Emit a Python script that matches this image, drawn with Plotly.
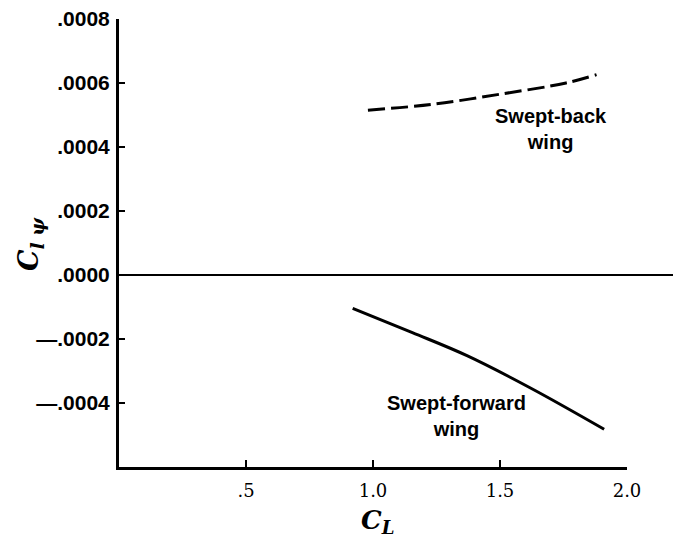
import plotly.graph_objects as go

# Data
back_cl = [0.98, 1.23, 1.50, 1.76, 1.88]
back_clpsi = [0.000515, 0.000533, 0.000565, 0.000600, 0.000626]

fwd_cl = [0.92, 1.155, 1.37, 1.62, 1.91]
fwd_clpsi = [-0.000104, -0.000180, -0.000252, -0.000353, -0.000482]

y_tickvals = [0.0008, 0.0006, 0.0004, 0.0002, 0.0, -0.0002, -0.0004]
y_ticktext = [".0008", ".0006", ".0004", ".0002", ".0000", "\u2014.0002", "\u2014.0004"]
x_tickvals = [0.5, 1.0, 1.5, 2.0]
x_ticktext = [".5", "1.0", "1.5", "2.0"]

W, H = 673, 538
ML, MR, MT, MB = 119, 46, 19, 71
PW, PH = W - ML - MR, H - MT - MB

fig = go.Figure()
fig.add_trace(go.Scatter(x=back_cl, y=back_clpsi, mode="lines", line_shape="spline",
                         line=dict(color="black", width=3, dash="17px,6px"),
                         hoverinfo="skip", showlegend=False))
fig.add_trace(go.Scatter(x=fwd_cl, y=fwd_clpsi, mode="lines", line_shape="spline",
                         line=dict(color="black", width=3),
                         hoverinfo="skip", showlegend=False))

# zero reference line extending to the right edge
fig.add_shape(type="line", xref="paper", yref="y", x0=0, x1=(W - ML) / PW,
              y0=0, y1=0, line=dict(color="black", width=2))

lab_font = dict(family="Liberation Sans", size=20, color="black", weight="bold")
fig.add_annotation(x=1.70, y=0.000455, text="Swept-back<br>wing", showarrow=False,
                   xanchor="center", yanchor="middle", font=lab_font, align="center")
fig.add_annotation(x=1.33, y=-0.000440, text="Swept-forward<br>wing", showarrow=False,
                   xanchor="center", yanchor="middle", font=lab_font, align="center")

# axis titles
fig.add_annotation(xref="paper", yref="paper", x=(378 - ML) / PW, y=-(521 - (H - MB)) / PH,
                   xanchor="center", yanchor="middle",
                   text="<b><i>C<sub>L</sub></i></b>", showarrow=False,
                   font=dict(family="DejaVu Serif", size=26, color="black"))
fig.add_annotation(xref="paper", yref="paper", x=-(ML - 30) / PW, y=1 - (244 - MT) / PH,
                   xanchor="center", yanchor="middle",
                   text="<b><i>C<sub>l \u03c8</sub></i></b>", showarrow=False, textangle=-90,
                   font=dict(family="DejaVu Serif", size=27, color="black"))

fig.update_xaxes(range=[0, 2.0], tickvals=x_tickvals, ticktext=x_ticktext, automargin=False,
                 ticks="inside", ticklen=7, tickwidth=2, tickcolor="black", ticklabelstandoff=5,
                 showline=True, linecolor="black", linewidth=3, showgrid=False, zeroline=False,
                 tickfont=dict(family="DejaVu Serif", size=18, color="black"))
fig.update_yaxes(range=[-0.0006, 0.0008], tickvals=y_tickvals, ticktext=y_ticktext, automargin=False,
                 ticks="inside", ticklen=6, tickwidth=2, tickcolor="black", ticklabelstandoff=2,
                 showline=True, linecolor="black", linewidth=3, showgrid=False, zeroline=False,
                 tickfont=dict(family="Liberation Sans", size=21, color="black", weight="bold"))

fig.update_layout(width=W, height=H, margin=dict(l=ML, r=MR, t=MT, b=MB),
                  plot_bgcolor="white", paper_bgcolor="white")

fig.write_html("out.html", config={"displayModeBar": False},
               post_script="document.body.style.margin='0';document.body.style.padding='0';")
